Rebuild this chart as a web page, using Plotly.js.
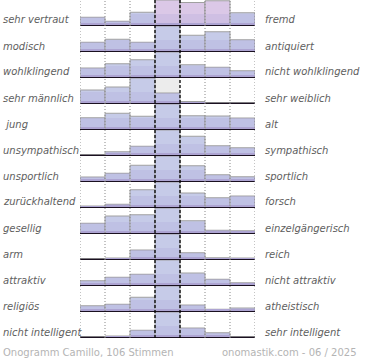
<!DOCTYPE html>
<html><head><meta charset="utf-8">
<script src="https://cdn.plot.ly/plotly-3.0.1.min.js"></script>
<style>html,body{margin:0;padding:0;background:#fff}</style>
</head><body><div id="chart" style="width:370px;height:360px"></div>
<script>
const leftLabels = ["sehr vertraut","modisch","wohlklingend","sehr männlich"," jung","unsympathisch","unsportlich","zurückhaltend","gesellig","arm","attraktiv","religiös","nicht intelligent"];
const rightLabels = ["fremd","antiquiert","nicht wohlklingend","sehr weiblich","alt","sympathisch","sportlich","forsch","einzelgängerisch","reich","nicht attraktiv","atheistisch","sehr intelligent"];
const scaleSteps = [1,2,3,4,5,6,7];
// relative height of each answer bar (% of the row maximum)
const row01 = [31,15,51,100,90,97,49];
const row02 = [35,47,35,100,63,77,45];
const row03 = [36,53,69,100,49,39,25];
const row04 = [52,64,100,40,6,0,0];
const row05 = [45,63,51,100,53,52,44];
const row06 = [0,13,35,100,75,37,29];
const row07 = [16,31,63,100,61,25,17];
const row08 = [4,11,69,100,56,37,44];
const row09 = [39,68,73,100,49,11,9];
const row10 = [0,4,36,100,25,5,4];
const row11 = [17,31,43,100,48,23,9];
const row12 = [21,27,55,100,24,7,12];
const row13 = [0,4,27,100,36,17,0];
const rows = [row01,row02,row03,row04,row05,row06,row07,row08,row09,row10,row11,row12,row13];
const footerLeft = "Onogramm Camillo, 106 Stimmen";
const footerRight = "onomastik.com - 06 / 2025";

const W = 370, H = 360, ML = 80, MR = 115, MT = 0, MB = 22;
const PW = W - ML - MR, PH = H - MT - MB;
const ROW = 26, BAR = 25;
const traces = [], shapes = [], annotations = [];
const layout = {
  width: W, height: H, margin: {l: ML, r: MR, t: MT, b: MB},
  paper_bgcolor: '#fff', plot_bgcolor: 'rgba(0,0,0,0)',
  showlegend: false, barmode: 'overlay', bargap: 0,
  xaxis: {range: [0.5, 7.5], showgrid: false, zeroline: false, showticklabels: false, ticks: '', fixedrange: true},
  font: {family: 'DejaVu Sans', size: 10, color: '#666'}
};
const pyToPaper = p => (PH - p) / PH;
rows.forEach((vals, i) => {
  const ax = i === 0 ? 'y' : 'y' + (i + 1);
  const key = i === 0 ? 'yaxis' : 'yaxis' + (i + 1);
  const base = ROW * i + BAR; // pixel baseline in plot area
  layout[key] = {
    domain: [pyToPaper(base), pyToPaper(base - BAR)],
    range: [0, 100], anchor: 'x', showgrid: false, showticklabels: false, ticks: '',
    zeroline: true, zerolinecolor: '#1a1020', zerolinewidth: 2, layer: 'above traces', fixedrange: true
  };
  // gray backdrop of the middle column
  shapes.push({type: 'rect', xref: 'x', yref: ax + ' domain', x0: 3.5, x1: 4.5, y0: 0, y1: 1,
    fillcolor: '#ececec', line: {width: 0}, layer: 'below'});
  const colors = vals.map(v => (i === 0 && v > 80) ? '#dbc8e7' : '#c6cbe8');
  traces.push({type: 'bar', x: scaleSteps, y: vals, xaxis: 'x', yaxis: ax, width: 1,
    marker: {color: colors, line: {color: '#a0a0a0', width: 1}}, hoverinfo: 'none'});
  traces.push({type: 'bar', x: scaleSteps, y: vals.map(v => Math.min(v, 45)), xaxis: 'x', yaxis: ax, width: 0.96,
    marker: {color: 'rgba(170,165,215,0.25)', line: {width: 0}}, hoverinfo: 'none'});
  traces.push({type: 'bar', x: scaleSteps, y: vals.map(v => Math.min(v, 10)), xaxis: 'x', yaxis: ax, width: 0.96,
    marker: {color: '#ada4d2', line: {width: 0}}, hoverinfo: 'none'});
  annotations.push({xref: 'paper', yref: 'paper', x: (1 - ML) / PW, y: pyToPaper(base - 5),
    xanchor: 'left', yanchor: 'middle', text: leftLabels[i], showarrow: false,
    font: {family: 'DejaVu Sans', size: 10, color: '#5e5e5e', style: 'italic'}});
  annotations.push({xref: 'paper', yref: 'paper', x: (263 - ML) / PW, y: pyToPaper(base - 5),
    xanchor: 'left', yanchor: 'middle', text: rightLabels[i], showarrow: false,
    font: {family: 'DejaVu Sans', size: 10, color: '#5e5e5e', style: 'italic'}});
});
// column separators
[0.5, 1.5, 2.5, 5.5, 6.5, 7.5].forEach(x => shapes.push({type: 'line', xref: 'x', yref: 'paper',
  x0: x, x1: x, y0: 0, y1: 1, line: {color: '#888', width: 1, dash: '1px,2px'}}));
[3.5, 4.5].forEach(x => shapes.push({type: 'line', xref: 'x', yref: 'paper',
  x0: x, x1: x, y0: 0, y1: 1, line: {color: '#000', width: 1.3, dash: '3px,2px'}}));
annotations.push({xref: 'paper', yref: 'paper', x: (1 - ML) / PW, y: pyToPaper(352), xanchor: 'left', yanchor: 'middle',
  text: footerLeft, showarrow: false, font: {family: 'DejaVu Sans', size: 10, color: '#b4b4b4'}});
annotations.push({xref: 'paper', yref: 'paper', x: (220 - ML) / PW, y: pyToPaper(352), xanchor: 'left', yanchor: 'middle',
  text: footerRight, showarrow: false, font: {family: 'DejaVu Sans', size: 10, color: '#b4b4b4'}});
layout.shapes = shapes;
layout.annotations = annotations;
Plotly.newPlot('chart', traces, layout, {staticPlot: true, displayModeBar: false});
</script></body></html>
